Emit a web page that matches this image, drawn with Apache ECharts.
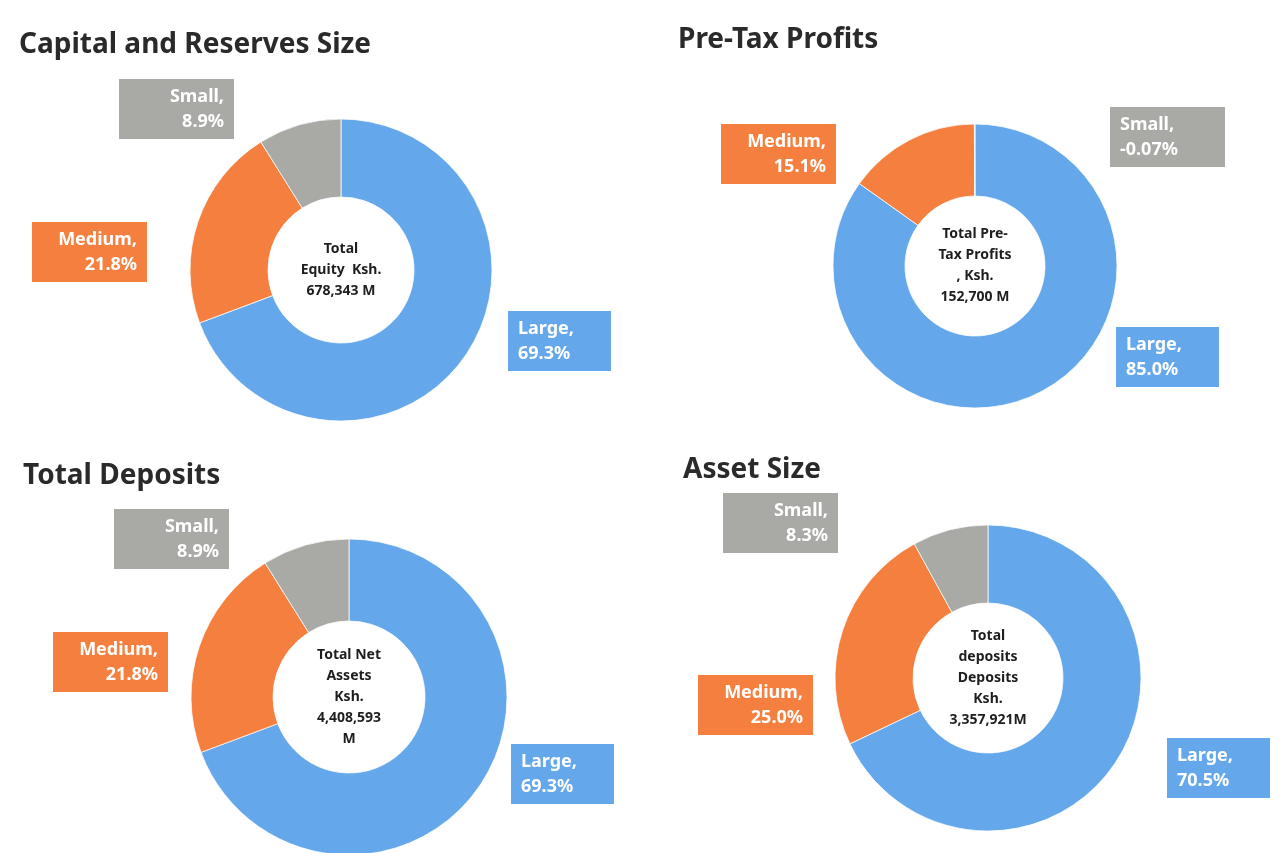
<!DOCTYPE html>
<html>
<head>
<meta charset="utf-8">
<title>Bank size shares</title>
<script src="https://cdn.jsdelivr.net/npm/echarts@6/dist/echarts.min.js"></script>
<style>
  html, body { margin: 0; padding: 0; background: #fff; }
  #main { width: 1288px; height: 853px; }
</style>
</head>
<body>
<div id="main"></div>
<script>
// data
var chartTitles = ['Capital and Reserves Size', 'Pre-Tax Profits', 'Total Deposits', 'Asset Size'];
var categories = ['Large', 'Medium', 'Small'];
var largeShare = [69.3, 85.0, 69.3, 70.5];
var mediumShare = [21.8, 15.1, 21.8, 25.0];
var smallShare = [8.9, -0.07, 8.9, 8.3];
var centerTexts = [
  'Total\nEquity  Ksh.\n678,343 M',
  'Total Pre-\nTax Profits\n, Ksh.\n152,700 M',
  'Total Net\nAssets\nKsh.\n4,408,593\nM',
  'Total\ndeposits\nDeposits\nKsh.\n3,357,921M'
];

var colors = { Large: '#64a7ea', Medium: '#f47f3e', Small: '#a9a9a6' };

// layout of each panel (pixels): pie centre, radii, heading, label anchors
var panels = [
  { center: [341, 270], radius: [73, 151], head: [19, 31],
    anchor: { Large: [508, 341, 'left'], Medium: [147, 252, 'right'], Small: [234, 109, 'right'] } },
  { center: [975, 266], radius: [70, 142], head: [678, 26],
    anchor: { Large: [1116, 357, 'left'], Medium: [836, 154, 'right'], Small: [1110, 137, 'left'] } },
  { center: [349, 697], radius: [76, 158], head: [23, 462],
    anchor: { Large: [511, 774, 'left'], Medium: [168, 662, 'right'], Small: [229, 539, 'right'] } },
  { center: [988, 678], radius: [75, 153], head: [683, 456],
    anchor: { Large: [1167, 768, 'left'], Medium: [813, 705, 'right'], Small: [838, 523, 'right'] } }
];

function fmtPct(v) {
  return (Math.abs(v) < 0.1 ? v.toFixed(2) : v.toFixed(1)) + '%';
}

var chart = echarts.init(document.getElementById('main'));

var titles = [];
var series = [];
var graphics = [];

panels.forEach(function (p, i) {
  var shares = [largeShare[i], mediumShare[i], smallShare[i]];

  titles.push({
    text: chartTitles[i],
    left: p.head[0],
    top: p.head[1],
    padding: 0,
    textStyle: { fontFamily: 'Noto Sans', fontSize: 28, fontWeight: 'bold', color: '#2a2a2a' }
  });

  series.push({
    type: 'pie',
    center: p.center,
    radius: p.radius,
    startAngle: 90,
    clockwise: true,
    silent: true,
    animation: false,
    itemStyle: { borderColor: 'rgba(255,255,255,0.75)', borderWidth: 1 },
    labelLine: { show: false },
    data: categories.map(function (c, k) {
      return {
        name: c,
        // a negative share still gets a (hairline) slice, as in the source
        value: Math.abs(shares[k]),
        itemStyle: { color: colors[c] },
        label: {
          show: true,
          position: 'outside',
          formatter: c + ',\n' + fmtPct(shares[k]),
          backgroundColor: colors[c],
          color: '#fff',
          fontFamily: 'Noto Sans',
          fontWeight: 'bold',
          fontSize: 18,
          lineHeight: 25,
          width: c === 'Large' ? 83 : 95,
          padding: [5, 10, 5, 10]
        }
      };
    }),
    labelLayout: function (params) {
      var a = p.anchor[categories[params.dataIndex]];
      return { x: a[0], y: a[1], align: a[2], verticalAlign: 'middle' };
    }
  });

  graphics.push({
    type: 'text',
    x: p.center[0],
    y: p.center[1],
    silent: true,
    style: {
      text: centerTexts[i],
      align: 'center',
      verticalAlign: 'middle',
      fontFamily: 'Noto Sans',
      fontWeight: 'bold',
      fontSize: 14,
      lineHeight: 21,
      fill: '#1e1e1e'
    }
  });
});

chart.setOption({
  backgroundColor: '#ffffff',
  animation: false,
  title: titles,
  series: series,
  graphic: graphics
});
</script>
</body>
</html>
